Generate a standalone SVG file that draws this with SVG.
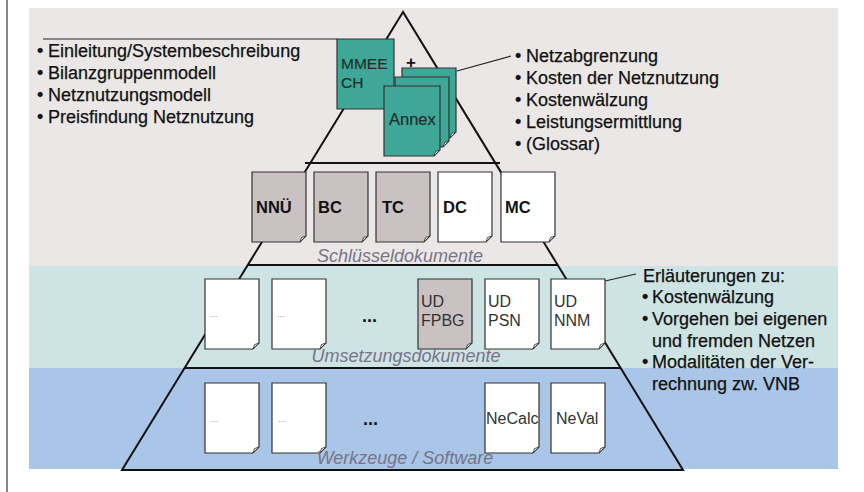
<svg xmlns="http://www.w3.org/2000/svg" xmlns:xlink="http://www.w3.org/1999/xlink" width="864" height="492" viewBox="0 0 864 492">
<style>
text{font-family:"Liberation Sans",Arial,sans-serif;}
.list{font-size:18px;fill:#111;stroke:#111;stroke-width:0.25;}
.lbl{font-size:16.5px;font-weight:bold;fill:#111;}
.ud{font-size:16px;fill:#333;}
.sec{font-size:18px;font-style:italic;fill:#777488;text-anchor:middle;}
.tiny{font-size:9px;fill:#999;}
.dots{font-size:18px;font-weight:bold;fill:#111;}
.doc{stroke:#333;stroke-width:1.2;}
.white{fill:#fff;}
.gray{fill:#c9c1c2;}
.teal{fill:#3ea797;}
.fold{fill:#ddd;stroke:#333;stroke-width:0.8;}
.pyr{fill:none;stroke:#111;stroke-width:2;}
.conn{fill:none;stroke:#222;stroke-width:1.2;}
.dtext{font-size:15.5px;fill:#1d2f2c;stroke:#1d2f2c;stroke-width:0.2;}
</style>
<defs>
<path id="doc" d="M0 0H54V64L48 70H0Z"/>
<path id="fold" d="M48 70L49.5 65.5L54 64Z"/>
<path id="docL" d="M0 0H56V64L50 70H0Z"/>
<path id="foldL" d="M50 70L51.5 65.5L56 64Z"/>
</defs>
<rect x="0" y="0" width="864" height="492" fill="#fff"/>
<line x1="7" y1="0" x2="7" y2="492" stroke="#333" stroke-width="1.2"/>
<rect x="29" y="8" width="809" height="258" fill="#ebe7e7"/>
<rect x="29" y="266" width="809" height="102" fill="#cde3e4"/>
<rect x="29" y="368" width="809" height="101" fill="#a9c5e7"/>

<g id="pyramid">
<polygon class="pyr" points="403,12 122,470 683,470"/>
<line class="pyr" x1="305" y1="163" x2="500" y2="163"/>
<line class="pyr" x1="248" y1="265" x2="558" y2="265"/>
<line class="pyr" x1="185" y1="368" x2="621" y2="368"/>
</g>

<g id="connectors">
<line class="conn" x1="43" y1="39" x2="337" y2="39"/>
<line class="conn" x1="457" y1="71" x2="511" y2="56"/>
<line class="conn" x1="605" y1="281" x2="636" y2="274"/>
</g>

<g id="mmee">
<path class="doc teal" d="M337 39H394V103L388 109H337Z"/>
<path class="fold" d="M388 109L389.5 104.5L394 103Z"/>
<text class="dtext" x="341" y="69">MMEE</text>
<text class="dtext" x="341" y="88">CH</text>
</g>
<g id="plus"><text x="406" y="68" style="font-size:17px;font-weight:bold;fill:#111">+</text></g>
<g id="annex">
<use xlink:href="#doc" class="doc teal" x="402" y="68"/>
<use xlink:href="#fold" class="fold" x="402" y="68"/>
<use xlink:href="#doc" class="doc teal" x="395" y="77"/>
<use xlink:href="#fold" class="fold" x="395" y="77"/>
<use xlink:href="#docL" class="doc teal" x="384" y="86"/>
<use xlink:href="#foldL" class="fold" x="384" y="86"/>
<text class="dtext" x="389" y="125" style="font-size:16.5px">Annex</text>
</g>

<g id="left-list">
<text class="list" x="37" y="57">•<tspan x="48">Einleitung/Systembeschreibung</tspan></text>
<text class="list" x="37" y="79">•<tspan x="48">Bilanzgruppenmodell</tspan></text>
<text class="list" x="37" y="101">•<tspan x="48">Netznutzungsmodell</tspan></text>
<text class="list" x="37" y="123">•<tspan x="48">Preisfindung Netznutzung</tspan></text>
</g>

<g id="right-list">
<text class="list" x="515" y="62">•<tspan x="526">Netzabgrenzung</tspan></text>
<text class="list" x="515" y="84">•<tspan x="526">Kosten der Netznutzung</tspan></text>
<text class="list" x="515" y="106">•<tspan x="526">Kostenwälzung</tspan></text>
<text class="list" x="515" y="128">•<tspan x="526">Leistungsermittlung</tspan></text>
<text class="list" x="515" y="150">•<tspan x="526">(Glossar)</tspan></text>
</g>

<g id="nnu"><use xlink:href="#doc" class="doc gray" x="252" y="172"/><use xlink:href="#fold" class="fold" x="252" y="172"/><text class="lbl" x="256" y="213">NNÜ</text></g>
<g id="bc"><use xlink:href="#doc" class="doc gray" x="314" y="172"/><use xlink:href="#fold" class="fold" x="314" y="172"/><text class="lbl" x="318" y="213">BC</text></g>
<g id="tc"><use xlink:href="#doc" class="doc gray" x="376" y="172"/><use xlink:href="#fold" class="fold" x="376" y="172"/><text class="lbl" x="382" y="213">TC</text></g>
<g id="dc"><use xlink:href="#doc" class="doc white" x="438" y="172"/><use xlink:href="#fold" class="fold" x="438" y="172"/><text class="lbl" x="443" y="213">DC</text></g>
<g id="mc"><use xlink:href="#doc" class="doc white" x="501" y="172"/><use xlink:href="#fold" class="fold" x="501" y="172"/><text class="lbl" x="505" y="213">MC</text></g>
<g id="schluessel"><text class="sec" x="400" y="262">Schlüsseldokumente</text></g>

<g id="ud1"><use xlink:href="#doc" class="doc white" x="205" y="279"/><use xlink:href="#fold" class="fold" x="205" y="279"/><text class="tiny" x="210" y="317">...</text></g>
<g id="ud2"><use xlink:href="#doc" class="doc white" x="272" y="279"/><use xlink:href="#fold" class="fold" x="272" y="279"/><text class="tiny" x="277" y="317">...</text></g>
<g id="ud-dots"><text class="dots" x="362" y="322">...</text></g>
<g id="udfpbg"><use xlink:href="#doc" class="doc gray" x="418" y="279"/><use xlink:href="#fold" class="fold" x="418" y="279"/><text class="ud" x="421" y="307">UD</text><text class="ud" x="421" y="326">FPBG</text></g>
<g id="udpsn"><use xlink:href="#doc" class="doc white" x="485" y="279"/><use xlink:href="#fold" class="fold" x="485" y="279"/><text class="ud" x="488" y="307">UD</text><text class="ud" x="488" y="326">PSN</text></g>
<g id="udnnm"><use xlink:href="#doc" class="doc white" x="551" y="279"/><use xlink:href="#fold" class="fold" x="551" y="279"/><text class="ud" x="554" y="307">UD</text><text class="ud" x="554" y="326">NNM</text></g>
<g id="umsetzung"><text class="sec" x="406" y="362">Umsetzungsdokumente</text></g>

<g id="erlaeuterungen">
<text class="list" x="643" y="282">Erläuterungen zu:</text>
<text class="list" x="642" y="303">•<tspan x="652">Kostenwälzung</tspan></text>
<text class="list" x="642" y="325">•<tspan x="652">Vorgehen bei eigenen</tspan></text>
<text class="list" x="652" y="347">und fremden Netzen</text>
<text class="list" x="642" y="368">•<tspan x="652">Modalitäten der Ver-</tspan></text>
<text class="list" x="652" y="390">rechnung zw. VNB</text>
</g>

<g id="tool1"><use xlink:href="#doc" class="doc white" x="205" y="383"/><use xlink:href="#fold" class="fold" x="205" y="383"/><text class="tiny" x="211" y="422">...</text></g>
<g id="tool2"><use xlink:href="#doc" class="doc white" x="272" y="383"/><use xlink:href="#fold" class="fold" x="272" y="383"/><text class="tiny" x="278" y="422">...</text></g>
<g id="tool-dots"><text class="dots" x="363" y="425">...</text></g>
<g id="necalc"><use xlink:href="#doc" class="doc white" x="485" y="383"/><use xlink:href="#fold" class="fold" x="485" y="383"/><text class="ud" x="486" y="424">NeCalc</text></g>
<g id="neval"><use xlink:href="#doc" class="doc white" x="551" y="383"/><use xlink:href="#fold" class="fold" x="551" y="383"/><text class="ud" x="556" y="424">NeVal</text></g>
<g id="werkzeuge"><text class="sec" x="405" y="464">Werkzeuge / Software</text></g>
</svg>
